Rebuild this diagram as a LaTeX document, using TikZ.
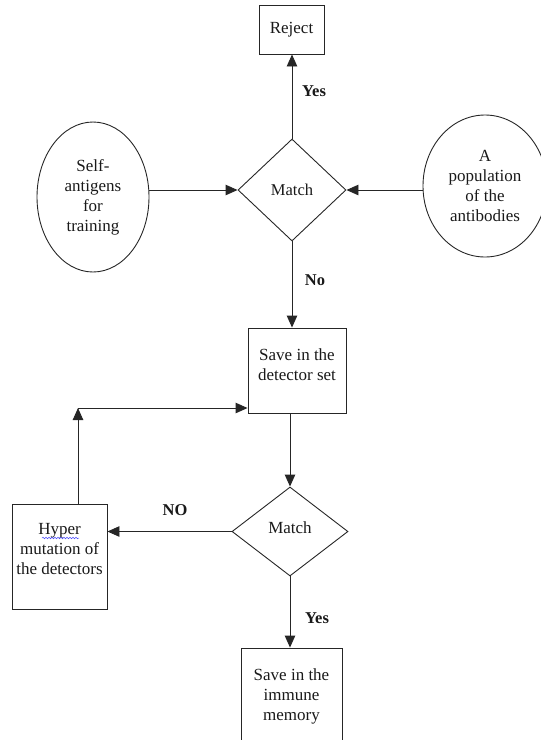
\documentclass[tikz,border=0pt]{standalone}
\usepackage{fontspec}
\setmainfont{Liberation Serif}
\usetikzlibrary{arrows.meta,shapes.geometric,decorations.pathmorphing}
\begin{document}
\begin{tikzpicture}[x=1pt,y=-1pt,
  line width=0.9pt,
  every node/.style={font=\fontsize{17}{20}\selectfont, align=center, inner sep=0pt, text=black!90},
  box/.style={draw=black!85, rectangle},
  oval/.style={draw=black!85, ellipse},
  dia/.style={draw=black!85, diamond},
  arr/.style={draw=black!85, -{Triangle[length=12pt,width=10.5pt]}},
  lbl/.style={font=\fontsize{16.5}{20}\selectfont\bfseries},
  txt/.style={}
]
\useasboundingbox (0,0) rectangle (541,740);
\clip (0,0) rectangle (541,740);

\node[box, minimum width=65pt, minimum height=49pt] (rej) at (291.5,29.5) {Reject};
\node[dia, minimum width=108pt, minimum height=102pt, font=\fontsize{16.5}{20}\selectfont] (d1) at (292,190) {Match};
\node[oval, minimum width=112pt, minimum height=150pt] (self) at (93,197) {Self-\\antigens\\for\\training};
\node[oval, minimum width=124pt, minimum height=142pt] (pop) at (485,186) {A\\population\\of the\\antibodies};
\node[box, minimum width=98pt, minimum height=85pt] (det) at (297,370.5) {};
\node[txt] (dettxt) at (297,365) {Save in the\\detector set};
\node[dia, minimum width=116pt, minimum height=89pt] (d2) at (290,531.5) {};
\node[txt] (d2txt) at (290,528) {Match};
\node[box, minimum width=95pt, minimum height=105pt] (hyp) at (59.5,556.5) {};
\node[txt] (hyptxt) at (59.5,549) {Hyper\\mutation of\\the detectors};
\node[box, minimum width=101pt, minimum height=100pt] (mem) at (291.5,698) {};
\node[txt] (memtxt) at (291.5,696) {Save in the\\immune\\memory};

\coordinate (corner) at (78,408);
\coordinate (wl) at (42,538);
\coordinate (wr) at (79,538);
\draw[blue!70, line width=0.5pt, decorate, decoration={snake, segment length=3pt, amplitude=0.8pt}] (wl) -- (wr);

\draw[arr] (d1.north) -- (d1.north |- rej.south);
\draw[arr] (self.east |- d1.west) -- (d1.west);
\draw[arr] (pop.west |- d1.east) -- (d1.east);
\draw[arr] (d1.south) -- (d1.south |- det.north);
\draw[arr] (det.south -| d2.north) -- (d2.north);
\draw[arr] (d2.west) -- (d2.west -| hyp.east);
\draw[arr] (hyp.north -| corner) -- (corner);
\draw[arr] (corner) -- (corner -| det.west);
\draw[arr] (d2.south) -- (d2.south |- mem.north);

\node[lbl] (yes1) at (314,91) {Yes};
\node[lbl] (no1) at (315,280) {No};
\node[lbl] (no2) at (175,510) {NO};
\node[lbl] (yes2) at (317,618) {Yes};
\end{tikzpicture}
\end{document}
